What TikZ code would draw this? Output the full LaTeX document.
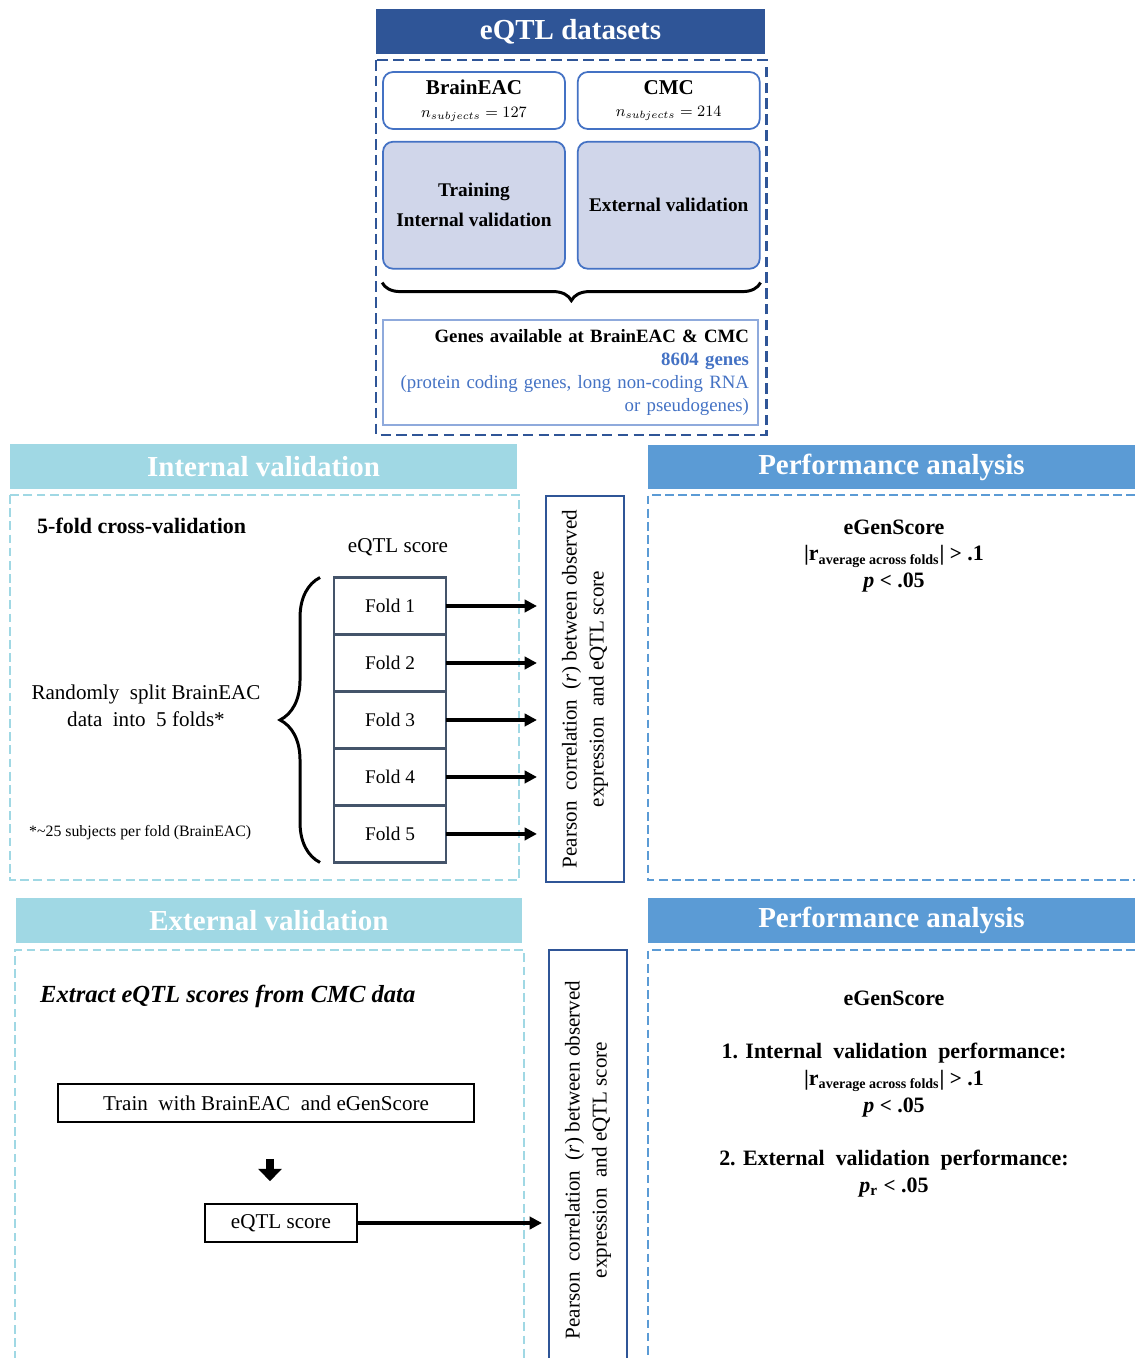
\documentclass[tikz,border=0pt]{standalone}
\usepackage{fontspec}
\setmainfont{Liberation Serif}
\usepackage{tikz}
\usetikzlibrary{positioning,arrows.meta,decorations.pathreplacing,calc}
\definecolor{dkblue}{HTML}{2F5597}
\definecolor{midblue}{HTML}{4472C4}
\definecolor{lav}{HTML}{D0D6EA}
\definecolor{cyanhd}{HTML}{A0D8E4}
\definecolor{perfblue}{HTML}{5B9BD5}
\definecolor{slate}{HTML}{44546A}
\definecolor{gray1}{HTML}{8FAADC}
\newcommand{\prtxt}{\rotatebox{90}{\parbox{7.6cm}{\centering\fontsize{12}{15.3}\selectfont Pearson\ \ correlation\ \ (\textit{r}) between observed\\ expression\ \ and eQTL score}}}
\newcommand{\ravg}{|r\textsubscript{\fontsize{8}{9}\selectfont average\ across folds}| {\large>} .1}
\tikzstyle{hd1}=[fill=dkblue, text=white, font=\bfseries\fontsize{16.5}{20}\selectfont, minimum height=.9cm]
\tikzstyle{hd2}=[hd1, fill=cyanhd]
\tikzstyle{hd3}=[hd1, fill=perfblue]
\tikzstyle{bx1}=[rounded corners=.2cm, draw=midblue, line width=1pt, minimum width=3.64cm, align=center, font=\fontsize{12}{14}\selectfont]
\tikzstyle{bx2}=[bx1, fill=lav, minimum height=2.54cm, font=\bfseries\fontsize{11}{13}\selectfont]
\tikzstyle{fd}=[draw=slate, line width=1.6pt, outer sep=0pt, minimum width=2.24cm, minimum height=1.14cm, font=\fontsize{11}{13}\selectfont]
\tikzstyle{pr}=[draw=dkblue, line width=1.2pt, minimum width=1.56cm, inner sep=0pt]
\tikzstyle{sq}=[draw, line width=.9pt, minimum height=.76cm, font=\fontsize{12}{14}\selectfont]
\tikzstyle{arr}=[line width=1.8pt, -{Triangle[length=7pt,width=7pt]}]
\tikzstyle{brc}=[line width=1.7pt, decorate]
\tikzstyle{dsh1}=[dkblue, line width=1.7pt, dash pattern=on 6pt off 3pt]
\tikzstyle{dsh2}=[cyanhd, line width=1.4pt, dash pattern=on 5pt off 2.5pt]
\tikzstyle{dsh3}=[perfblue, line width=1.4pt, dash pattern=on 5pt off 2.5pt]

\begin{document}
\begin{tikzpicture}[x=0.02cm, y=-0.02cm]
  \useasboundingbox (0,0) rectangle (1135,1358);
  % datasets
  \node[hd1, minimum width=7.78cm] (top) at (570.5,31.5) {eQTL datasets};
  \draw[dsh1] (376,60) rectangle (766,435);
  \node[bx1, minimum height=1.14cm] (brain) at (474,100.5) {\textbf{BrainEAC}\\[-1pt] {\small $n_{subjects} = 127$}};
  \node[bx1, minimum height=1.14cm, right=0.22cm of brain] (cmc) {\textbf{CMC}\\[-1pt] {\small $n_{subjects} = 214$}};
  \node[bx2, below=0.22cm of brain] (train) {Training\\[4pt] Internal validation};
  \node[bx2, below=0.22cm of cmc] (extv) {External validation};
  \draw[brc, decoration={brace, mirror, amplitude=0.36cm}] ([yshift=-0.26cm]train.south west) -- ([yshift=-0.26cm]extv.south east);
  \node[draw=gray1, line width=1pt, text width=7.14cm, inner xsep=0.18cm, minimum height=2.1cm, align=right, font=\fontsize{10.7}{13}\selectfont] (genes) at (570.5,372.5)
    {\textbf{Genes available at BrainEAC \& CMC}\\ \textcolor{midblue}{\textbf{8604 genes}}\\ \textcolor{midblue}{(protein coding genes, long non-coding RNA}\\ \textcolor{midblue}{or pseudogenes)}};

  % internal validation
  \node[hd2, minimum width=10.14cm] (intHd) at (263.5,466.5) {Internal validation};
  \draw[dsh2] (10,495) rectangle (519,880);
  \node[anchor=west, font=\bfseries\fontsize{12.5}{15}\selectfont] (cv) at (31,526) {5-fold cross-validation};
  \node[fd] (f1) at (390,606) {Fold 1};
  \foreach \i [count=\j from 2] in {1,...,4}
    \node[fd, below=0pt of f\i] (f\j) {Fold \j};
  \node[font=\fontsize{12}{14}\selectfont] (score) at (398,547) {eQTL score};
  \node[pr, minimum height=7.72cm] (pc1) at (585,689) {\prtxt};
  \foreach \i in {1,...,5}
    \draw[arr, shorten >=0.16cm] (f\i.east) -- (f\i.east -| pc1.west);
  \draw[brc, decoration={brace, amplitude=0.8cm}] ([xshift=-0.28cm]f5.south west) -- ([xshift=-0.28cm]f1.north west);
  \node[align=center, font=\fontsize{12}{15.3}\selectfont] (split) at (146,706) {Randomly\ \ split BrainEAC\\ data\ \ into\ \ 5 folds*};
  \node[anchor=west, font=\fontsize{9}{11}\selectfont] (note) at (23,833) {*\textasciitilde25 subjects per fold (BrainEAC)};

  % performance 1
  \node[hd3, minimum width=9.74cm] (perfHd1) at (891.5,467) {Performance analysis};
  \draw[dsh3] (1135,495) -- (648,495) -- (648,880) -- (1135,880);
  \node[align=center, font=\bfseries\fontsize{12.5}{15.3}\selectfont] (perf1) at (894,556) {eGenScore\\ \ravg\\ \textit{p} {\large<} .05};

  % external validation
  \node[hd2, minimum width=10.12cm] (extHd) at (269,920.5) {External validation};
  \draw[dsh2] (15,1360) -- (15,950) -- (524,950) -- (524,1360);
  \node[anchor=west, font=\bfseries\itshape\fontsize{14}{17}\selectfont] (extr) at (34,996) {Extract eQTL scores from CMC data};
  \node[sq, minimum width=8.32cm] (trn) at (266,1103) {Train\ \ with BrainEAC\ \ and eGenScore};
  \node[sq, minimum width=3.04cm] (esc) at (281,1223) {eQTL score};
  \coordinate (dn) at ($(trn.south)+(4,0)$);
  \draw[line width=4.5pt, -{Triangle[length=7pt,width=13pt]}, shorten <=0.72cm, shorten >=0.44cm] (dn) -- (dn |- esc.north);
  \node[pr, minimum height=8.4cm] (pc2) at (588,1160) {\prtxt};
  \draw[arr, shorten >=0.12cm] (esc.east) -- (esc.east -| pc2.west);

  % performance 2
  \node[hd3, minimum width=9.74cm] (perfHd2) at (891.5,920) {Performance analysis};
  \draw[dsh3] (1135,950) -- (648,950) -- (648,1360);
  \node[align=center, font=\bfseries\fontsize{12.5}{15.3}\selectfont] (perf2) at (894,1094)
    {eGenScore\\[15pt] 1. Internal\ \ validation\ \ performance:\\ \ravg\\ \textit{p} {\large<} .05\\[15pt]
     2. External\ \ validation\ \ performance:\\ \textit{p}\textsubscript{r} {\large<} .05};
\end{tikzpicture}
\end{document}
